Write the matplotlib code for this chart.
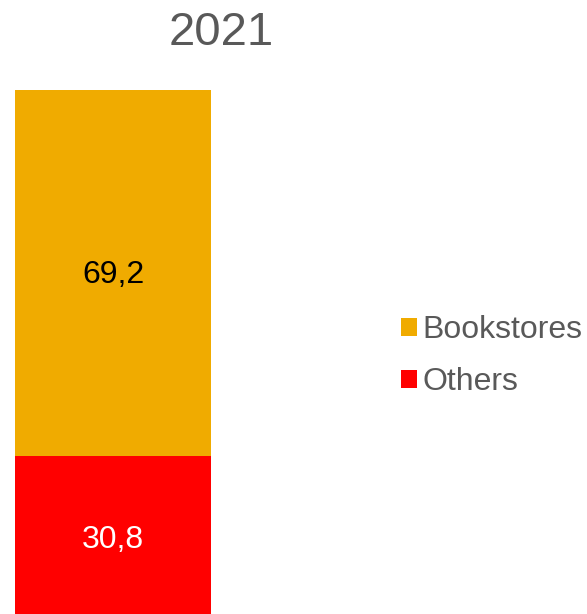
import matplotlib.pyplot as plt
from matplotlib.patches import Patch
from matplotlib.transforms import offset_copy

plt.rcParams['font.family'] = ['Liberation Sans', 'DejaVu Sans']

year = "2021"
categories = ["Others", "Bookstores"]
values = [30.8, 69.2]
labels = ["30,8", "69,2"]
colors = ["#FF0000", "#F0AB00"]
label_colors = ["white", "black"]

W, H = 587, 614
fig = plt.figure(figsize=(W / 100, H / 100), dpi=100)
ax = fig.add_axes([15 / W, -5 / H, 196 / W, 529 / H])
shifted = offset_copy(ax.transData, fig=fig, x=0, y=-2, units="dots")

bottom = 0
for cat, v, lab, c, lc in zip(categories, values, labels, colors, label_colors):
    ax.bar(0, v, width=1.0, bottom=bottom, color=c, label=cat)
    ax.text(0, bottom + v / 2, lab, ha="center", va="center", fontsize=23,
            color=lc, transform=shifted)
    bottom += v

ax.set_xlim(-0.5, 0.5)
ax.set_ylim(0, 100)
ax.axis("off")

fig.text(221 / W, 1 - 33 / H, year, ha="center", va="center", fontsize=34, color="#595959")

handles = [Patch(facecolor=colors[1], edgecolor="none"), Patch(facecolor=colors[0], edgecolor="none")]
fig.legend(handles, [categories[1], categories[0]], loc="center left",
           bbox_to_anchor=(401 / W, 1 - 356 / H), frameon=False, fontsize=23,
           handlelength=0.5, handleheight=0.5, handletextpad=0.18,
           labelspacing=0.69, borderpad=0, borderaxespad=0, labelcolor="#595959")

fig.savefig("out.png", dpi=100)
